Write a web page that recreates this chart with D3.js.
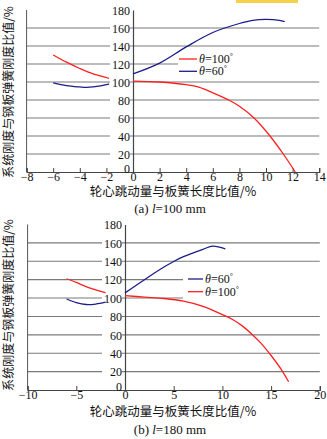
<!DOCTYPE html>
<html>
<head>
<meta charset="utf-8">
<script src="https://cdn.jsdelivr.net/npm/d3@7"></script>
<style>
  body { margin: 0; background: #fff; }
  svg { display: block; }
  .tick text { font-family: "Liberation Serif", serif; font-size: 12px; fill: #111; }
</style>
</head>
<body>
<script>
// data (percent values)
var aRedLeftX  = [-6, -5, -4, -3, -2, -1.8];
var aRedLeftY  = [130, 122, 115, 109, 105, 104];
var aBlueLeftX = [-6, -5, -4, -3.5, -3, -2, -1.8];
var aBlueLeftY = [99, 96, 94.5, 94, 94.5, 97, 98];
var aRedRightX  = [0, 2, 4, 5, 6, 7.2, 8, 9.1, 10.3, 11.3, 12.2];
var aRedRightY  = [101, 100, 97, 94, 88, 80, 73, 60, 40, 20, 0];
var aBlueRightX = [0, 2, 4, 6, 8, 9, 10, 11, 11.4];
var aBlueRightY = [109, 121, 139, 155, 165, 168.5, 169.5, 168.5, 167];

var bRedLeftX  = [-6, -5, -4, -3, -2];
var bRedLeftY  = [121, 117, 112.5, 109, 106];
var bBlueLeftX = [-6, -5, -4, -3, -2];
var bBlueLeftY = [99, 95, 93, 93.5, 95.5];
var bRedRightX  = [0, 2, 4, 6, 8, 10, 11, 12, 13, 14, 15, 16, 16.8];
var bRedRightY  = [102.7, 101, 99.5, 96.6, 91, 82, 77, 70, 61, 50.5, 37.5, 23, 9];
var bBlueRightX = [0, 2, 4, 5, 6, 8, 9, 10.3];
var bBlueRightY = [105.6, 120, 133.7, 139.8, 145, 153, 156.5, 153.5];

var aXTicks = [-8, -6, -4, -2, 0, 2, 4, 6, 8, 10, 12, 14];
var bXTicks = [-10, -5, 0, 5, 10, 15, 20];
var yTicks = [0, 20, 40, 60, 80, 100, 120, 140, 160, 180];
var gridValues = [20, 40, 60, 80, 100, 120, 140, 160];

var yTitle = "系统刚度与钢板弹簧刚度比值/%";
var xTitle = "轮心跳动量与板簧长度比值/%";

var red = "#ff1f1f", blue = "#1c1c8a";
var serif = "'Liberation Serif', serif",
    cjk = "'Noto Sans CJK SC', sans-serif";

var svg = d3.select("body").append("svg")
    .attr("width", 327).attr("height", 439);

// little yellow highlight at the top edge
svg.append("rect").attr("x", 236).attr("y", 0).attr("width", 62).attr("height", 3)
    .attr("fill", "#f6d24a");

function zip(xs, ys){
    return xs.map(function(v, i){ return [v, ys[i]]; });
}

function drawPanel(p){
    var x = d3.scaleLinear().domain(p.xDomain).range(p.xRange);
    var y = d3.scaleLinear().domain([0, 180]).range(p.yRange);
    var g = svg.append("g");

    //gridlines
    g.selectAll(".grid").data(gridValues).enter().append("line")
        .attr("x1", x(p.xDomain[0])).attr("x2", x(p.xDomain[1]))
        .attr("y1", function(d){ return y(d); })
        .attr("y2", function(d){ return y(d); })
        .attr("stroke", "#7a7a7a").attr("stroke-width", 1.1);

    //legend background covers a few gridlines
    g.append("rect")
        .attr("x", p.legendBox[0]).attr("y", p.legendBox[1])
        .attr("width", p.legendBox[2]).attr("height", p.legendBox[3])
        .attr("fill", "#fff");

    //left frame
    g.append("line")
        .attr("x1", x(p.xDomain[0])).attr("x2", x(p.xDomain[0]))
        .attr("y1", y(0)).attr("y2", y(180))
        .attr("stroke", "#555");

    //x axis
    var xAxis = d3.axisBottom(x).tickValues(p.xTicks).tickSize(-4).tickPadding(0)
        .tickFormat(d3.format("d"));
    var gx = g.append("g").attr("transform", "translate(0," + y(0) + ")").call(xAxis);
    gx.select(".domain").attr("stroke", "#444").attr("stroke-width", 1.2);
    gx.selectAll(".tick line").attr("stroke", "#444");

    //y axis at x = 0
    var yAxis = d3.axisLeft(y).tickValues(yTicks).tickSize(0).tickPadding(3);
    var gy = g.append("g").attr("transform", "translate(" + x(0) + ",0)").call(yAxis);
    gy.select(".domain").attr("stroke", "#444").attr("stroke-width", 1.2);
    gy.selectAll(".tick text").attr("dy", "0.36em");
    gy.selectAll(".tick").filter(function(d){ return d === 0; })
        .select("text").attr("dy", "0.05em");
    gy.selectAll(".tick").filter(function(d){ return d > 0; }).insert("rect", "text")
        .attr("x", -23).attr("y", -6).attr("width", 20).attr("height", 12)
        .attr("fill", "#fff");

    //curves
    var line = d3.line()
        .x(function(d){ return x(d[0]); })
        .y(function(d){ return y(d[1]); })
        .curve(d3.curveCatmullRom.alpha(0.5));
    p.series.forEach(function(s){
        g.append("path").datum(zip(s.x, s.y))
            .attr("d", line)
            .attr("fill", "none")
            .attr("stroke", s.color)
            .attr("stroke-width", 1.3);
    });

    //legend
    p.legend.forEach(function(it, i){
        var ly = p.legendY[i];
        g.append("line").attr("x1", p.legendX[0]).attr("x2", p.legendX[1])
            .attr("y1", ly).attr("y2", ly)
            .attr("stroke", it.color).attr("stroke-width", 1.3);
        var t = g.append("text").attr("x", p.legendX[1] + 2).attr("y", ly + 4)
            .attr("font-family", serif).attr("font-size", 12).attr("fill", "#111");
        t.append("tspan").attr("font-style", "italic").text("θ");
        t.append("tspan").text("=" + it.angle);
        t.append("tspan").attr("font-size", 8).attr("dy", -4).text("°");
    });

    //titles
    g.append("text")
        .attr("transform", "translate(" + p.yTitlePos[0] + "," + p.yTitlePos[1] + ") rotate(-90)")
        .attr("text-anchor", "middle").attr("dominant-baseline", "central")
        .attr("font-family", cjk).attr("font-size", 12).attr("fill", "#111")
        .text(yTitle);
    g.append("text")
        .attr("x", p.xTitlePos[0]).attr("y", p.xTitlePos[1])
        .attr("text-anchor", "middle")
        .attr("font-family", cjk).attr("font-size", 12.5).attr("fill", "#111")
        .text(xTitle);
    var cap = g.append("text")
        .attr("x", p.captionPos[0]).attr("y", p.captionPos[1])
        .attr("text-anchor", "middle")
        .attr("font-family", serif).attr("font-size", 13).attr("fill", "#111");
    cap.append("tspan").text("(" + p.letter + ") ");
    cap.append("tspan").attr("font-style", "italic").text("l");
    cap.append("tspan").text("=" + p.length + " mm");
}

drawPanel({
    letter: "a", length: 100,
    xDomain: [-8, 14], xRange: [26.6, 319.2], yRange: [172, 10],
    xTicks: aXTicks,
    series: [
        {x: aRedLeftX, y: aRedLeftY, color: red},
        {x: aBlueLeftX, y: aBlueLeftY, color: blue},
        {x: aRedRightX, y: aRedRightY, color: red},
        {x: aBlueRightX, y: aBlueRightY, color: blue}
    ],
    legend: [{color: red, angle: "100"}, {color: blue, angle: "60"}],
    legendBox: [178, 52, 145, 24], legendX: [179, 197], legendY: [59, 71.3],
    yTitlePos: [7.5, 92], xTitlePos: [173, 196], captionPos: [170, 213]
});

drawPanel({
    letter: "b", length: 180,
    xDomain: [-10, 20], xRange: [27.6, 319.8], yRange: [390, 224.5],
    xTicks: bXTicks,
    series: [
        {x: bRedLeftX, y: bRedLeftY, color: red},
        {x: bBlueLeftX, y: bBlueLeftY, color: blue},
        {x: bRedRightX, y: bRedRightY, color: red},
        {x: bBlueRightX, y: bBlueRightY, color: blue}
    ],
    legend: [{color: blue, angle: "60"}, {color: red, angle: "100"}],
    legendBox: [183, 271, 140, 31], legendX: [188, 203], legendY: [279, 291.7],
    yTitlePos: [7.5, 305], xTitlePos: [173, 416], captionPos: [170, 434]
});
</script>
</body>
</html>
